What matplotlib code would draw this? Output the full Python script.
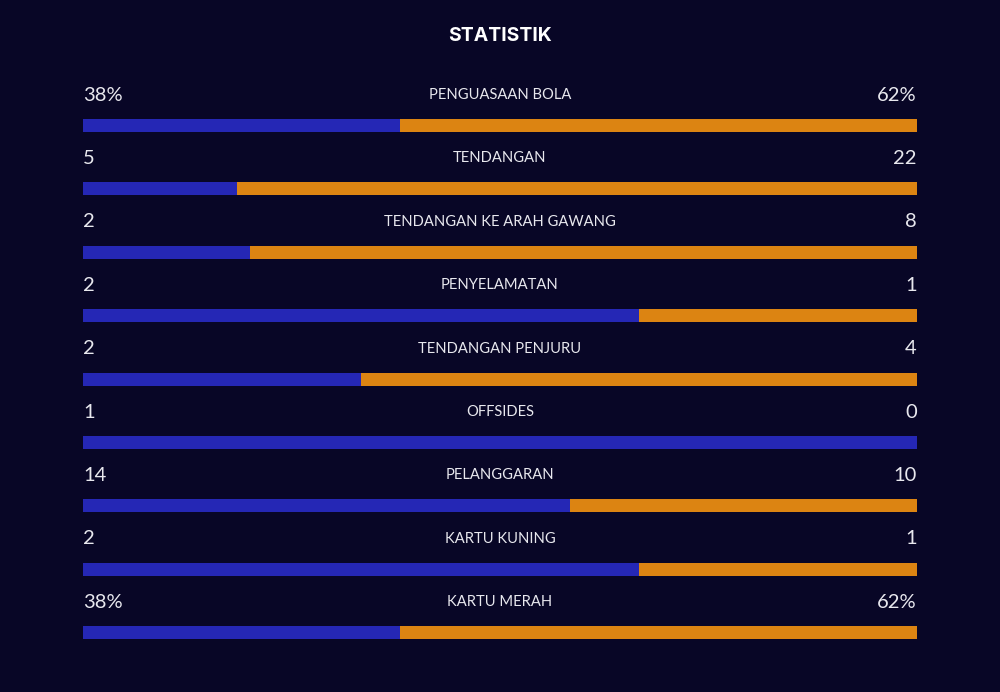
import matplotlib.pyplot as plt

# data
labels = ['PENGUASAAN BOLA', 'TENDANGAN', 'TENDANGAN KE ARAH GAWANG', 'PENYELAMATAN',
          'TENDANGAN PENJURU', 'OFFSIDES', 'PELANGGARAN', 'KARTU KUNING', 'KARTU MERAH']
home = [38, 5, 2, 2, 2, 1, 14, 2, 38]
away = [62, 22, 8, 1, 4, 0, 10, 1, 62]
home_text = ['38%', '5', '2', '2', '2', '1', '14', '2', '38%']
away_text = ['62%', '22', '8', '1', '4', '0', '10', '1', '62%']

BG = '#080626'
BLUE = '#2527b5'
ORANGE = '#dc8412'
TXT = '#e8e8ee'

fig = plt.figure(figsize=(10, 6.92), dpi=100, facecolor=BG)
ax = fig.add_axes([0.083, 0.0308, 0.834, 0.8795])
ax.set_facecolor(BG)

rows = list(range(len(labels)))
share = [h / (h + a) for h, a in zip(home, away)]
rest = [1 - s for s in share]

ax.barh(rows, share, height=0.205, color=BLUE)
ax.barh(rows, rest, left=share, height=0.205, color=ORANGE)

for i in rows:
    y = i - 0.48
    ax.text(0, y, home_text[i], ha='left', va='center', color=TXT,
            fontsize=14.5, family='Lato')
    ax.text(1, y, away_text[i], ha='right', va='center', color=TXT,
            fontsize=14.5, family='Lato')
    ax.text(0.5, y, labels[i], ha='center', va='center', color=TXT,
            fontsize=10.6, family='Lato')

ax.set_xlim(0, 1)
ax.set_ylim(8.6, -1.0)
ax.axis('off')

fig.text(0.5, 1 - 36 / 692, 'STATISTIK', ha='center', va='center', color='white',
         fontsize=14, fontweight='bold', family='Inter')

fig.savefig('out.png', dpi=100, facecolor=BG)
